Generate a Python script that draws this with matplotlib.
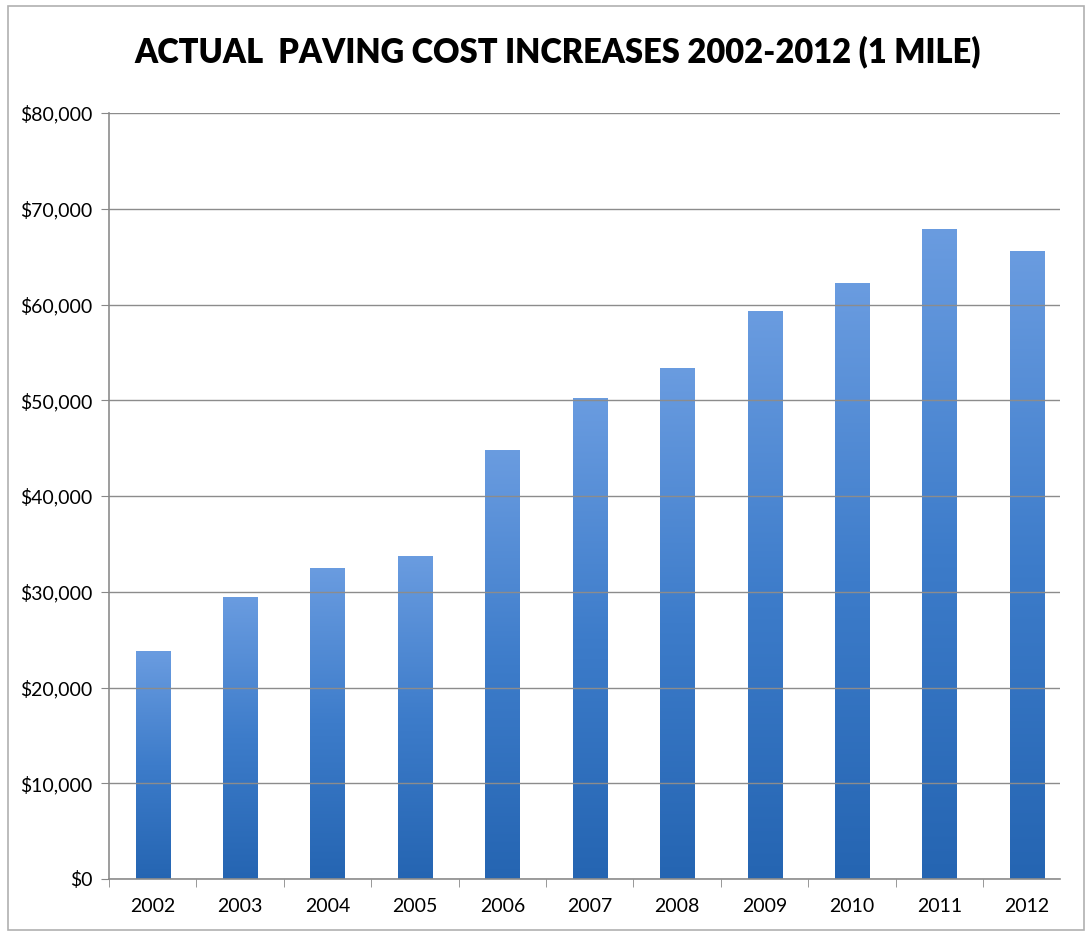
import numpy as np
import matplotlib.pyplot as plt
from matplotlib.colors import LinearSegmentedColormap
from matplotlib.patches import Rectangle

years = ['2002', '2003', '2004', '2005', '2006', '2007', '2008', '2009', '2010', '2011', '2012']
costs = [23800, 29500, 32500, 33700, 44800, 50200, 53400, 59300, 62200, 67900, 65600]
y_ticks = [0, 10000, 20000, 30000, 40000, 50000, 60000, 70000, 80000]

plt.rcParams['font.family'] = ['Lato', 'DejaVu Sans']

fig = plt.figure(figsize=(10.88, 9.34), dpi=100)
ax = fig.add_axes([109 / 1088, 1 - 879 / 934, (1060 - 109) / 1088, (879 - 113) / 934])

# outer chart border
fig.patches.append(Rectangle((8 / 1088, 0.004), 1 - 12 / 1088, 1 - 0.004 - 6 / 934,
                             transform=fig.transFigure, fill=False,
                             edgecolor='#b0b0b0', linewidth=1.2))

cmap = LinearSegmentedColormap.from_list('paving', ['#2565b2', '#3d7cca', '#6a9ce0'])
grad = np.linspace(0, 1, 256).reshape(-1, 1)
width = 0.39
x = np.arange(len(years))
bars = ax.bar(x, costs, width=width, color='none', zorder=2)
for b in bars:
    x0, y0 = b.get_x(), b.get_y()
    w, h = b.get_width(), b.get_height()
    im = ax.imshow(grad, cmap=cmap, origin='lower', aspect='auto',
                   extent=[x0, x0 + w, y0, y0 + h], zorder=2)
    im.set_clip_path(b)

ax.set_xlim(-0.5, len(years) - 0.62)
ax.set_ylim(0, 80000)
ax.set_yticks(y_ticks)
ax.set_yticklabels(['$' + format(v, ',') for v in y_ticks])
ax.set_xticks(x)
ax.set_xticklabels(years)
ax.set_xticks(np.arange(-0.5, len(years) - 0.6), minor=True)
ax.tick_params(axis='x', which='major', length=0, pad=14, labelsize=14)
ax.tick_params(axis='x', which='minor', length=6, color='#888888', direction='out')
ax.tick_params(axis='y', length=6, color='#888888', labelsize=14, pad=6)
ax.yaxis.grid(True, color='#8c8c8c', linewidth=1.0, zorder=3)
ax.set_axisbelow(False)
for s in ['top', 'right']:
    ax.spines[s].set_visible(False)
for s in ['left', 'bottom']:
    ax.spines[s].set_color('#8c8c8c')
    ax.spines[s].set_linewidth(1.2)

fig.text(0.513, 1 - 52 / 934, 'ACTUAL  PAVING COST INCREASES 2002-2012 (1 MILE)',
         ha='center', va='center', fontsize=23.5, fontweight='heavy')

fig.savefig('out.png', dpi=100)
